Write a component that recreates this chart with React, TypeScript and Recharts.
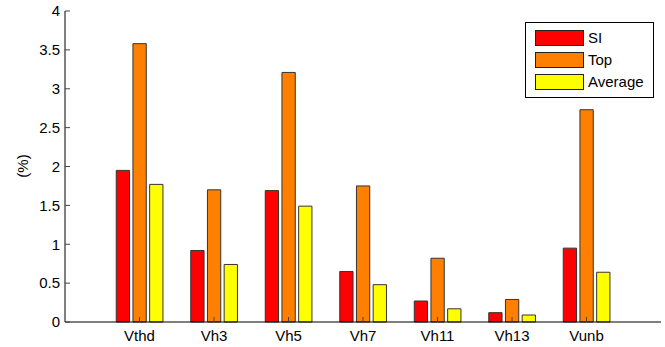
import {
    BarChart,
    Bar,
    XAxis,
    YAxis,
    Legend,
} from 'recharts';

// категории и значения
const categories = ['Vthd', 'Vh3', 'Vh5', 'Vh7', 'Vh11', 'Vh13', 'Vunb'];
const siValues = [1.95, 0.92, 1.69, 0.65, 0.27, 0.12, 0.95];
const topValues = [3.58, 1.70, 3.21, 1.75, 0.82, 0.29, 2.73];
const averageValues = [1.77, 0.74, 1.49, 0.48, 0.17, 0.09, 0.64];
const xTicks = [1, 2, 3, 4, 5, 6, 7];
const yTicks = [0, 0.5, 1, 1.5, 2, 2.5, 3, 3.5, 4];

const series = [
    { key: 'SI', color: '#FF0000' },
    { key: 'Top', color: '#FF8000' },
    { key: 'Average', color: '#FFFF00' },
];

const data = categories.map((name, i) => ({
    x: i + 1,
    name,
    SI: siValues[i],
    Top: topValues[i],
    Average: averageValues[i],
}));

const FONT = '"Liberation Sans", Arial, sans-serif';
const tickStyle = { fontSize: 15, fill: '#000', fontFamily: FONT };

// легенда в порядке серий, без сортировки
const LegendBox = () => (
    <div style={{
        width: 127,
        height: 70,
        border: '1px solid #000',
        background: '#fff',
        fontFamily: FONT,
        fontSize: 15,
        color: '#000',
        paddingTop: 4,
        boxSizing: 'content-box',
    }}>
        {series.map((s) => (
            <div key={s.key} style={{ display: 'flex', alignItems: 'center', height: 22, marginLeft: 9 }}>
                <div style={{
                    width: 47,
                    height: 14,
                    background: s.color,
                    border: '1px solid #222',
                    marginRight: 4,
                }} />
                <span style={{ lineHeight: '16px' }}>{s.key}</span>
            </div>
        ))}
    </div>
);

export default function App() {
    return (
        <div style={{ position: 'absolute', left: 0, top: 0 }}>
            <BarChart
                width={665}
                height={347}
                data={data}
                margin={{ top: 11, right: 4, left: 0, bottom: 0 }}
                barSize={13.3}
                barGap={3.4}
            >
                <XAxis
                    dataKey="x"
                    type="number"
                    domain={[0, 8]}
                    ticks={xTicks}
                    tickFormatter={(v: number) => categories[v - 1] ?? ''}
                    height={25}
                    tickSize={-5}
                    tickMargin={13}
                    tick={tickStyle}
                    axisLine={{ stroke: '#000' }}
                    tickLine={{ stroke: '#444' }}
                    interval={0}
                />
                <XAxis
                    xAxisId="top"
                    orientation="top"
                    dataKey="x"
                    type="number"
                    domain={[0, 8]}
                    ticks={xTicks}
                    height={0}
                    tickSize={-5}
                    tick={false}
                    axisLine={{ stroke: '#000' }}
                    tickLine={{ stroke: '#444' }}
                />
                <YAxis
                    domain={[0, 4]}
                    ticks={yTicks}
                    width={65}
                    tickSize={-5}
                    tickMargin={10}
                    tick={tickStyle}
                    axisLine={{ stroke: '#000' }}
                    tickLine={{ stroke: '#444' }}
                    interval={0}
                    label={{
                        content: () => (
                            <text
                                x={22}
                                y={166}
                                transform="rotate(-90, 22, 166)"
                                textAnchor="middle"
                                dominantBaseline="central"
                                fontSize={15}
                                fontFamily={FONT}
                                fill="#000"
                            >
                                (%)
                            </text>
                        ),
                    }}
                />
                <YAxis
                    yAxisId="right"
                    orientation="right"
                    domain={[0, 4]}
                    ticks={yTicks}
                    width={0}
                    tickSize={-5}
                    tick={false}
                    axisLine={{ stroke: '#000' }}
                    tickLine={{ stroke: '#444' }}
                />
                <Legend
                    layout="horizontal"
                    verticalAlign="middle"
                    align="center"
                    wrapperStyle={{ top: 22, left: 525, width: 129 }}
                    content={<LegendBox />}
                />
                {series.map((s) => (
                    <Bar
                        key={s.key}
                        dataKey={s.key}
                        fill={s.color}
                        stroke="#333"
                        strokeWidth={1}
                        isAnimationActive={false}
                    />
                ))}
            </BarChart>
        </div>
    );
}
